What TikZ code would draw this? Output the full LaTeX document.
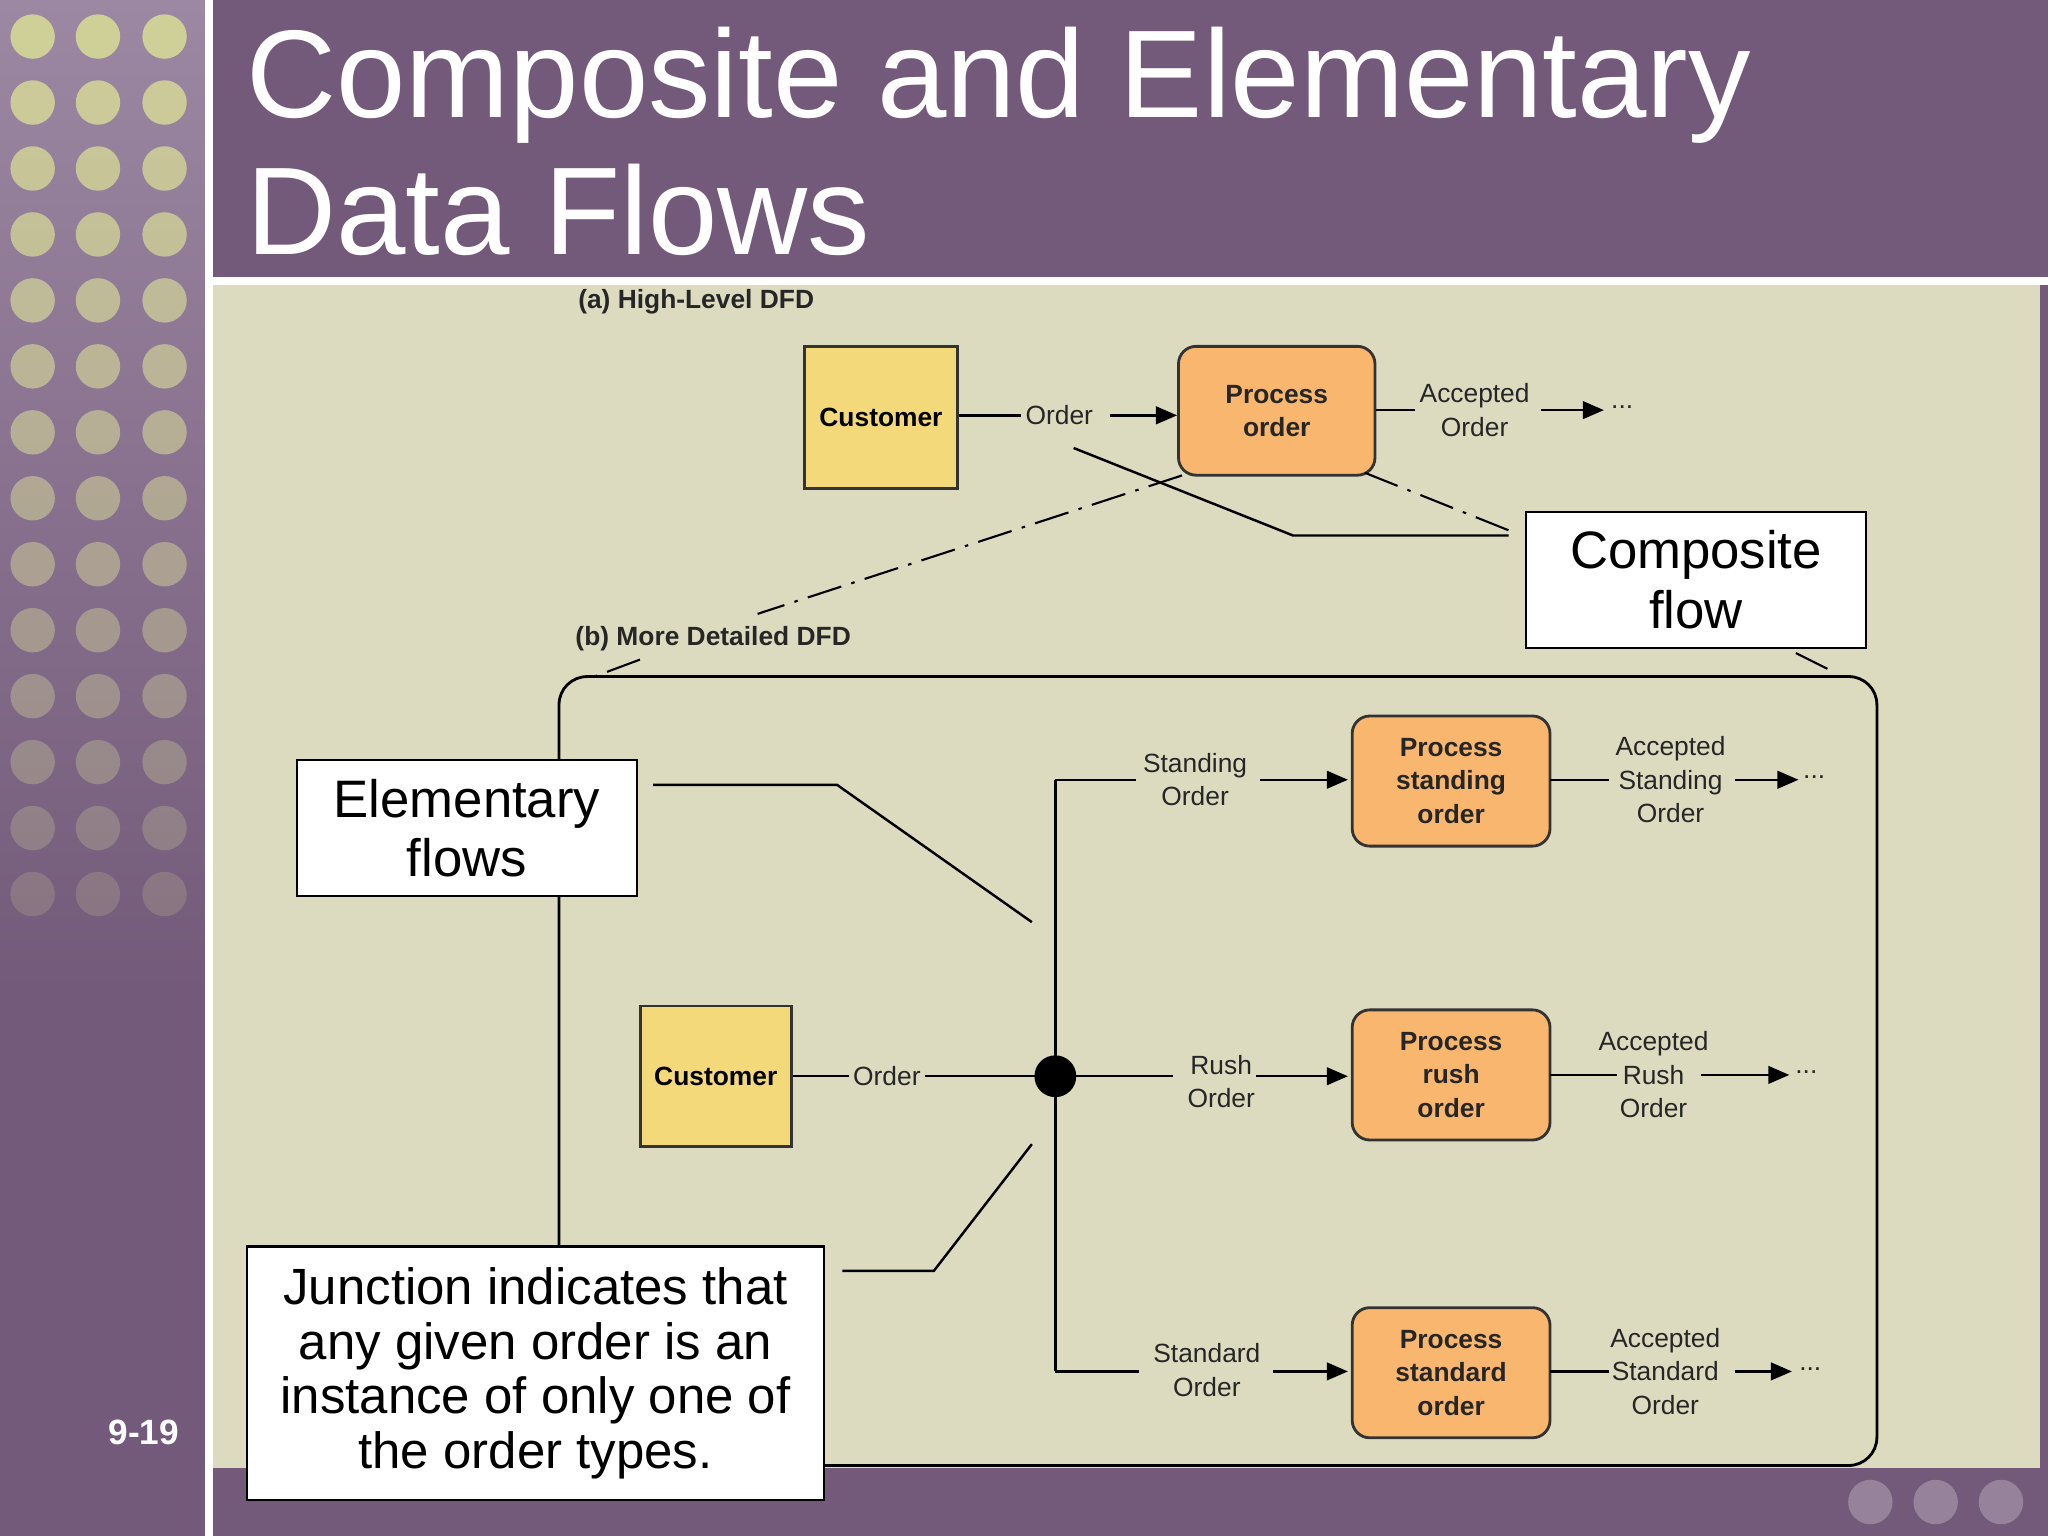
\documentclass[tikz,border=0pt]{standalone}
\usepackage{fontspec}
\setmainfont{Liberation Sans}
\usetikzlibrary{arrows.meta}
\definecolor{purp}{HTML}{735A7A}
\definecolor{purpl}{HTML}{9C88A2}
\definecolor{beige}{HTML}{DCDBBF}
\definecolor{dot}{HTML}{CFCF98}
\definecolor{yel}{HTML}{F3D97A}
\definecolor{ora}{HTML}{F8B66E}
\newcommand\px[1]{#1*0.37028pt}
\begin{document}
\begin{tikzpicture}[x=0.0130612cm,y=-0.0130612cm,
  lab/.style={font=\fontsize{7.5}{9.5}\selectfont,align=center,inner sep=1pt,text=black!85},
  ent/.style={draw=black!80,line width=0.8pt,fill=yel,inner sep=0,font=\bfseries\fontsize{7.5}{9}\selectfont},
  proc/.style={draw=black!80,line width=0.8pt,fill=ora,rounded corners=5pt,inner sep=0,font=\bfseries\fontsize{7.5}{9.5}\selectfont,align=center,text=black!85},
  call/.style={draw,fill=white,line width=0.6pt,align=center,inner sep=0,font=\fontsize{15}{17}\selectfont},
  fl/.style={line width=0.7pt},
  ar/.style={line width=0.7pt,-{Triangle[length=6pt,width=5pt]}},
  dd/.style={line width=0.6pt,dash pattern=on 10pt off 3pt on 1pt off 3pt}]
\useasboundingbox (0,0) rectangle (1568,1176);
\fill[purp] (0,0) rectangle (1568,1176);
\shade[top color=purpl,bottom color=purp] (0,0) rectangle (157,760);
\fill[white] (157,0) rectangle (163,1176);
\fill[white] (163,212) rectangle (1568,218);
\fill[beige] (163,218) rectangle (1562,1124);
\foreach \k in {0,...,13} {
  \pgfmathsetmacro{\op}{1-0.06*\k}
  \foreach \xx in {25,75,126} \fill[dot,opacity=\op] (\xx,{28+50.5*\k}) circle (17);
}
\foreach \xx in {1432,1482,1532} \fill[white,opacity=0.25] (\xx,1150) circle (17);
\node[text=white,anchor=north west,align=left,font=\fontsize{35.5}{39}\selectfont,inner sep=0] (title) at (188,20) {Composite and Elementary\\Data Flows};
\node[text=white,font=\bfseries\fontsize{10}{12}\selectfont] (pg) at (110,1097) {9-19};
% (a)
\node[lab,font=\bfseries\fontsize{7.5}{9}\selectfont] (la) at (533,231) {(a) High-Level DFD};
\node[ent,minimum width=\px{117},minimum height=\px{109}] (c1) at (674.5,319.5) {Customer};
\node[proc,minimum width=\px{151},minimum height=\px{99}] (p1) at (977.5,314.5) {Process\\order};
\node[lab] (o1) at (811,318) {Order};
\node[lab] (ao1) at (1129,314) {Accepted\\Order};
\coordinate (e1) at (1228,314);
\node[lab] (d1) at (1242,312) {...};
\draw[fl] (c1.east|-o1.west) -- (o1.west);
\draw[ar] (850,318) -- (p1.west|-850,318);
\draw[fl] (p1.east|-1053,314) -- (ao1.west);
\draw[ar] (1180,314) -- (e1);
% composite
\node[call,minimum width=\px{261},minimum height=\px{104}] (cf) at (1298.5,444) {Composite\\flow};
\draw[fl] (822,343) -- (990,410) -- (1155,410);
\draw[dd] (905,364) -- (580,470);
\draw[dd] (1045,362) -- (1160,408);
\draw[dd] (490,505) -- (455,518);
\draw[dd] (1375,500) -- (1405,515);
% (b)
\node[lab,font=\bfseries\fontsize{7.5}{9}\selectfont] (lb) at (546,489) {(b) More Detailed DFD};
\draw[line width=0.8pt,rounded corners=8pt] (428,518) rectangle (1437,1122);
\node[ent,minimum width=\px{116},minimum height=\px{108}] (c2) at (548,824) {Customer};
\node[lab] (o2) at (679,824) {Order};
\fill (808,824) circle (16);
\coordinate (j) at (808,824);
\draw[fl] (c2.east) -- (o2.west);
\draw[fl] (o2.east) -- (j);
\draw[fl] (808,597) -- (808,1050);
\node[proc,minimum width=\px{152},minimum height=\px{100}] (p2) at (1111,598) {Process\\standing\\order};
\node[proc,minimum width=\px{152},minimum height=\px{100}] (p3) at (1111,823) {Process\\rush\\order};
\node[proc,minimum width=\px{152},minimum height=\px{100}] (p4) at (1111,1051) {Process\\standard\\order};
\node[lab] (s2) at (915,597) {Standing\\Order};
\node[lab] (s3) at (935,828) {Rush\\Order};
\node[lab] (s4) at (924,1049) {Standard\\Order};
\draw[fl] (808,597) -- (870,597);
\draw[ar] (965,597) -- (1032,597);
\draw[fl] (j) -- (898,824);
\draw[ar] (962,824) -- (1032,824);
\draw[fl] (808,1050) -- (872,1050);
\draw[ar] (975,1050) -- (1032,1050);
\node[lab] (a2) at (1279,597) {Accepted\\Standing\\Order};
\node[lab] (a3) at (1266,823) {Accepted\\Rush\\Order};
\node[lab] (a4) at (1275,1050) {Accepted\\Standard\\Order};
\draw[fl] (1187,597) -- (1232,597); \draw[ar] (1328,597) -- (1377,597); \node[lab] (d2) at (1389,595) {...};
\draw[fl] (1187,823) -- (1238,823); \draw[ar] (1302,823) -- (1370,823); \node[lab] (d3) at (1383,821) {...};
\draw[fl] (1187,1050) -- (1232,1050); \draw[ar] (1328,1050) -- (1372,1050); \node[lab] (d4) at (1386,1048) {...};
% callouts
\node[call,minimum width=\px{261},minimum height=\px{104}] (ef) at (357.5,634) {Elementary\\flows};
\draw[fl] (500,601) -- (641,601) -- (790,706);
\node[call,minimum width=\px{444},minimum height=\px{195},font=\fontsize{14.5}{15.6}\selectfont] (jn) at (410,1051.5) {Junction indicates that\\any given order is an\\instance of only one of\\the order types.};
\draw[fl] (645,973) -- (715,973) -- (790,876);
\end{tikzpicture}
\end{document}
